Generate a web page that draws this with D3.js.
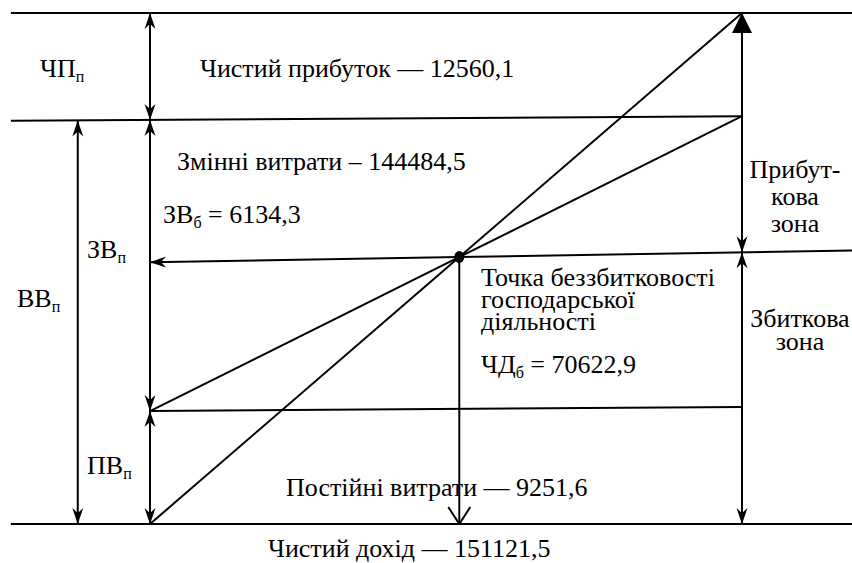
<!DOCTYPE html>
<html>
<head>
<meta charset="utf-8">
<script src="https://cdn.jsdelivr.net/npm/d3@7"></script>
</head>
<body style="margin:0;background:#fff">
<svg id="chart" width="852" height="563"></svg>
<script>
// Financial figures of the break-even analysis
const figureKeys   = ["netProfit", "variableCosts", "fixedCosts", "netRevenue", "breakEvenRevenue", "breakEvenVariable"];
const figureValues = [12560.1, 144484.5, 9251.6, 151121.5, 70622.9, 6134.3];

// Schematic levels of the diagram, in relative units (0 = zero line, 1 = full revenue)
const revenueLine   = [[0, 0], [1, 1]];          // net revenue grows from zero to its full value
const costLine      = [[0, 0.221], [1, 0.798]];  // total costs start at the fixed-cost level
const fixedLine     = [[0, 0.221], [1, 0.229]];  // fixed costs
const costTopLine   = [[-0.235, 0.789], [1, 0.798]];
const frameX        = [-0.235, 1.186];           // extent of the top and bottom rules
const beSlope       = 0.0194;                    // tilt of the break-even level line
const leftArrowX    = -0.122;                    // ВВ dimension line

const fmt = d3.formatLocale({ decimal: ",", thousands: "", grouping: [3], currency: ["", ""] }).format(".1f");
const val = k => fmt(figureValues[figureKeys.indexOf(k)]);

const svg = d3.select("#chart");
const x = d3.scaleLinear().domain([0, 1]).range([150, 742]);
const y = d3.scaleLinear().domain([0, 1]).range([524, 13]);

// Arrowhead markers
const defs = svg.append("defs");
defs.append("marker").attr("id", "stealth")
  .attr("viewBox", "-17 -7 18 14").attr("refX", 0).attr("refY", 0)
  .attr("markerWidth", 18).attr("markerHeight", 14)
  .attr("markerUnits", "userSpaceOnUse").attr("orient", "auto-start-reverse")
  .append("path").attr("d", "M0,0 L-16,-5.5 L-11,0 L-16,5.5 Z").attr("fill", "#000");
defs.append("marker").attr("id", "tri")
  .attr("viewBox", "-21 -11 22 22").attr("refX", 0).attr("refY", 0)
  .attr("markerWidth", 22).attr("markerHeight", 22)
  .attr("markerUnits", "userSpaceOnUse").attr("orient", "auto-start-reverse")
  .append("path").attr("d", "M0,0 L-20,-10 L-20,10 Z").attr("fill", "#000");
defs.append("marker").attr("id", "vee")
  .attr("viewBox", "-19 -12 20 24").attr("refX", 0).attr("refY", 0)
  .attr("markerWidth", 20).attr("markerHeight", 24)
  .attr("markerUnits", "userSpaceOnUse").attr("orient", "auto-start-reverse")
  .append("path").attr("d", "M-17,-11 L0,0 L-17,11").attr("fill", "none")
  .attr("stroke", "#000").attr("stroke-width", 2);

const g = svg.append("g").attr("stroke", "#000").attr("stroke-width", 2).attr("fill", "none");
const line = d3.line().x(d => x(d[0])).y(d => y(d[1]));

function seg(pts, start, end) {
  const p = g.append("path").attr("d", line(pts));
  if (start) p.attr("marker-start", `url(#${start})`);
  if (end) p.attr("marker-end", `url(#${end})`);
  return p;
}

// Break-even point: intersection of revenue and total-cost lines
const cSlope = (costLine[1][1] - costLine[0][1]) / (costLine[1][0] - costLine[0][0]);
const beX = costLine[0][1] / (1 - cSlope);
const beY = beX;
const beLevel = xx => beY + beSlope * (xx - beX);
const topAt = xx => costTopLine[0][1] + (costTopLine[1][1] - costTopLine[0][1]) *
  (xx - costTopLine[0][0]) / (costTopLine[1][0] - costTopLine[0][0]);

// Horizontal rules
seg([[frameX[0], 1], [frameX[1], 1]]);
seg([[frameX[0], 0], [frameX[1], 0]]);
seg(costTopLine);
seg(fixedLine);

// Revenue and cost lines
seg(revenueLine);
seg(costLine);

// Break-even level: arrow to the left axis and line to the right edge
seg([[beX, beY], [0, beLevel(0)]], null, "stealth");
seg([[beX, beY], [frameX[1], beLevel(frameX[1])]]);
// Drop line to the revenue axis
seg([[beX, beY], [beX, 0]], null, "vee");

// Dimension arrows on the left
seg([[0, 1], [0, topAt(0)]], "stealth", "stealth");
seg([[0, topAt(0)], [0, fixedLine[0][1]]], "stealth", "stealth");
seg([[0, fixedLine[0][1]], [0, 0]], "stealth", "stealth");
seg([[leftArrowX, topAt(leftArrowX)], [leftArrowX, 0]], "stealth", "stealth");

// Profit / loss zones on the right
seg([[1, beLevel(1)], [1, 1]], "stealth", "tri");
seg([[1, beLevel(1)], [1, 0]], "stealth", "stealth");

// Break-even dot
svg.append("ellipse").attr("cx", x(beX)).attr("cy", y(beY)).attr("rx", 5).attr("ry", 6).attr("fill", "#000");

// Labels: plain text runs, subscripts placed after the measured main run
const SERIF = '"Liberation Serif", Tinos, "Times New Roman"';
function run(px, py, str, size, anchor) {
  return svg.append("text").attr("x", px).attr("y", py)
    .attr("font-family", SERIF).attr("font-size", size)
    .attr("text-anchor", anchor || "start").attr("fill", "#000")
    .style("font-family", SERIF, "important")
    .style("font-size", size + "px", "important")
    .style("white-space", "pre")
    .text(str);
}
function label(px, py, parts, anchor) {
  let cx = px;
  parts.forEach(p => {
    if (typeof p === "string") {
      const t = run(cx, py, p, 26, anchor);
      cx += t.node().getComputedTextLength();
    } else {
      const s = run(cx, py + 5, p.sub, 16);
      cx += s.node().getComputedTextLength();
      if (p.after) {
        const a = run(cx, py, p.after, 26);
        cx += a.node().getComputedTextLength();
      }
    }
  });
}

label(40, 77, ["ЧП", { sub: "п" }]);
label(200, 77, ["Чистий прибуток — " + val("netProfit")]);
label(177, 170, ["Змінні витрати – " + val("variableCosts")]);
label(163, 223, ["ЗВ", { sub: "б", after: " = " + val("breakEvenVariable") }]);
label(87, 258, ["ЗВ", { sub: "п" }]);
label(17, 307, ["ВВ", { sub: "п" }]);
label(87, 474, ["ПВ", { sub: "п" }]);
label(481, 286, ["Точка беззбитковості"]);
label(481, 308, ["господарської"]);
label(481, 330, ["діяльності"]);
label(481, 373, ["ЧД", { sub: "б", after: " = " + val("breakEvenRevenue") }]);
label(795, 178, ["Прибут-"], "middle");
label(795, 205, ["кова"], "middle");
label(795, 232, ["зона"], "middle");
label(800, 327, ["Збиткова"], "middle");
label(800, 350, ["зона"], "middle");
label(286, 496, ["Постійні витрати — " + val("fixedCosts")]);
label(268, 557, ["Чистий дохід — " + val("netRevenue")]);
</script>
</body>
</html>
